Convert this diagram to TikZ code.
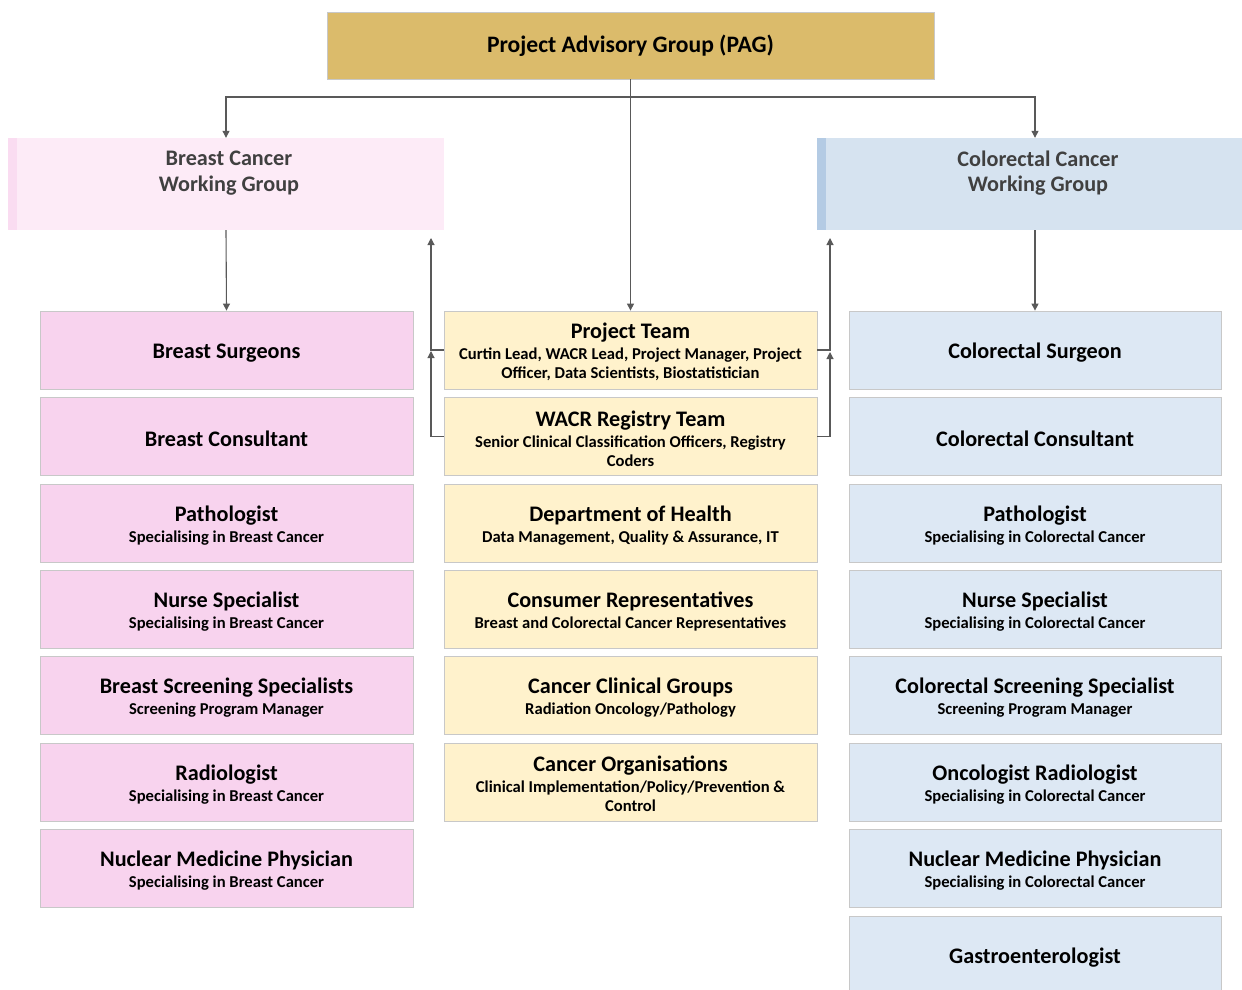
\documentclass[tikz,border=0pt]{standalone}
\usepackage{fontspec}
\setmainfont{Carlito}
\usetikzlibrary{arrows.meta}
\definecolor{gold}{HTML}{DBBB6B}
\definecolor{pinkbox}{HTML}{F8D3EE}
\definecolor{yelbox}{HTML}{FFF2CC}
\definecolor{bluebox}{HTML}{DDE8F4}
\definecolor{pinkhead}{HTML}{FDEBF7}
\definecolor{pinkbar}{HTML}{FADCF1}
\definecolor{bluehead}{HTML}{D6E3F0}
\definecolor{bluebar}{HTML}{B4CBE4}
\definecolor{edge}{HTML}{C8C8C8}
\definecolor{conn}{HTML}{595959}
\definecolor{headtext}{HTML}{404040}
\newcommand{\ttl}[1]{{\fontsize{22.2}{23}\selectfont\rule{0pt}{20pt}#1}}
\tikzset{
  box/.style={draw=edge, line width=0.8pt, minimum width=373pt, minimum height=78pt,
    inner sep=0pt, align=center, font=\bfseries\fontsize{16.6}{19}\selectfont},
  pbox/.style={box, fill=pinkbox},
  ybox/.style={box, fill=yelbox},
  bbox/.style={box, fill=bluebox, minimum width=372pt},
  arr/.style={draw=conn, line width=1.1pt, -{Triangle[length=7pt,width=7pt]}},
  headtxt/.style={align=center, text=headtext, font=\bfseries\fontsize{22.2}{25.5}\selectfont, inner sep=0pt}
}
\begin{document}
\begin{tikzpicture}[x=1pt,y=-1pt]
\useasboundingbox (0,0) rectangle (1242,989);
\clip (0,0) rectangle (1242,989);

% top
\node[draw=edge, fill=gold, line width=0.8pt, minimum width=607pt, minimum height=67pt, inner sep=0pt,
  font=\bfseries\fontsize{23.6}{26}\selectfont] (pag) at (630.5,45.5) {Project Advisory Group (PAG)};

% working group headers
\node[fill=pinkhead, minimum width=436pt, minimum height=92pt, inner sep=0pt] (bcwg) at (226,184) {};
\fill[pinkbar] (8,138) rectangle (17,230);
\node[headtxt] (bcwgt) at (229,173) {Breast Cancer\\Working Group};

\node[fill=bluehead, minimum width=436pt, minimum height=92pt, inner sep=0pt] (ccwg) at (1035,184) {};
\fill[bluebar] (817,138) rectangle (826,230);
\node[headtxt] (ccwgt) at (1038,173) {Colorectal Cancer\\Working Group};

% left column
\node[pbox] (l1) at (226.5,350) {\ttl{Breast Surgeons}};
\node[pbox] (l2) at (226.5,436.5) {\ttl{Breast Consultant}};
\node[pbox] (l3) at (226.5,523) {\ttl{Pathologist}\\[2pt]Specialising in Breast Cancer};
\node[pbox] (l4) at (226.5,609) {\ttl{Nurse Specialist}\\[2pt]Specialising in Breast Cancer};
\node[pbox] (l5) at (226.5,695.5) {\ttl{Breast Screening Specialists}\\[2pt]Screening Program Manager};
\node[pbox] (l6) at (226.5,782) {\ttl{Radiologist}\\[2pt]Specialising in Breast Cancer};
\node[pbox] (l7) at (226.5,868) {\ttl{Nuclear Medicine Physician}\\[2pt]Specialising in Breast Cancer};

% middle column
\node[ybox] (pt) at (630.5,350) {\ttl{Project Team}\\[2pt]Curtin Lead, WACR Lead, Project Manager, Project\\Officer, Data Scientists, Biostatistician};
\node[ybox] (wr) at (630.5,436.5) {\ttl{WACR Registry Team}\\[2pt]Senior Clinical Classification Officers, Registry\\Coders};
\node[ybox] (doh) at (630.5,523) {\ttl{Department of Health}\\[2pt]Data Management, Quality \& Assurance, IT};
\node[ybox] (cr) at (630.5,609) {\ttl{Consumer Representatives}\\[2pt]Breast and Colorectal Cancer Representatives};
\node[ybox] (ccg) at (630.5,695.5) {\ttl{Cancer Clinical Groups}\\[2pt]Radiation Oncology/Pathology};
\node[ybox] (co) at (630.5,782) {\ttl{Cancer Organisations}\\[2pt]Clinical Implementation/Policy/Prevention \&\\Control};

% right column
\node[bbox] (r1) at (1035,350) {\ttl{Colorectal Surgeon}};
\node[bbox] (r2) at (1035,436.5) {\ttl{Colorectal Consultant}};
\node[bbox] (r3) at (1035,523) {\ttl{Pathologist}\\[2pt]Specialising in Colorectal Cancer};
\node[bbox] (r4) at (1035,609) {\ttl{Nurse Specialist}\\[2pt]Specialising in Colorectal Cancer};
\node[bbox] (r5) at (1035,695.5) {\ttl{Colorectal Screening Specialist}\\[2pt]Screening Program Manager};
\node[bbox] (r6) at (1035,782) {\ttl{Oncologist Radiologist}\\[2pt]Specialising in Colorectal Cancer};
\node[bbox] (r7) at (1035,868) {\ttl{Nuclear Medicine Physician}\\[2pt]Specialising in Colorectal Cancer};
\node[bbox] (r8) at (1035,955) {\ttl{Gastroenterologist}};

% connectors
\coordinate (hub) at (630.5,97);
\draw[arr] (pag.south) -- (pt.north);
\draw[arr] (hub) -| (bcwg.north);
\draw[arr] (hub) -| (ccwg.north);
\draw[arr] (bcwg.south) -- (l1.north);
\draw[arr] (ccwg.south) -- (r1.north);

\coordinate (lt1) at (431,238);
\coordinate (lt2) at (431,351);
\coordinate (rt1) at (830,238);
\coordinate (rt2) at (830,352);
\draw[arr] (pt.west) -| (lt1);
\draw[arr] (wr.west) -| (lt2);
\draw[arr] (pt.east) -| (rt1);
\draw[arr] (wr.east) -| (rt2);
\end{tikzpicture}
\end{document}
